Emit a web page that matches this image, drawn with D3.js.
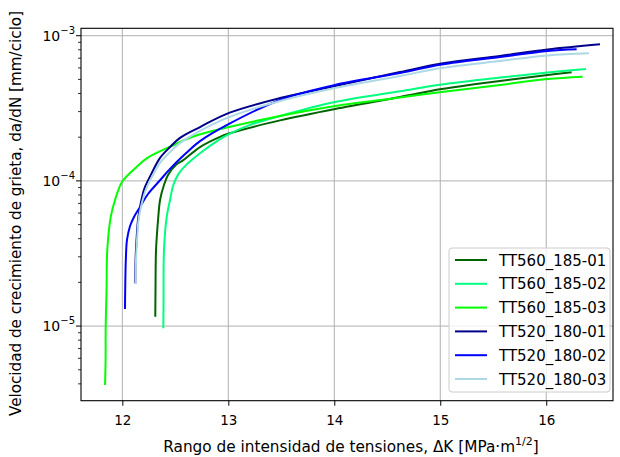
<!DOCTYPE html>
<html>
<head>
<meta charset="utf-8">
<script src="https://cdn.jsdelivr.net/npm/d3@7"></script>
<style>
  body { margin: 0; background: #fff; }
  svg { font-family: "DejaVu Sans", sans-serif; }
</style>
</head>
<body>
<svg width="620" height="457"></svg>
<script>
// Crack growth curves: da/dN vs ΔK (log y)

const seriesNames = [
  "TT560_185-01", "TT560_185-02", "TT560_185-03",
  "TT520_180-01", "TT520_180-02", "TT520_180-03"
];
const seriesColors = ["#006400", "#00ff7f", "#00ff00", "#00008b", "#0000ff", "#add8e6"];

// ΔK values [MPa·m^1/2] and da/dN values [mm/ciclo]
const tt560_01_K = [12.311, 12.313, 12.318, 12.337, 12.356, 12.393, 12.431, 12.507, 12.575, 12.733, 12.922, 13.007, 13.488, 14.007, 14.62, 15.013, 15.564, 16.013, 16.24];
const tt560_01_v = [1.16e-5, 1.77e-5, 3.34e-5, 5.38e-5, 7.39e-5, 9.37e-5, 1.10e-4, 1.29e-4, 1.39e-4, 1.71e-4, 2.01e-4, 2.12e-4, 2.61e-4, 3.13e-4, 3.78e-4, 4.29e-4, 4.88e-4, 5.36e-4, 5.60e-4];

const tt560_02_K = [12.387, 12.389, 12.393, 12.419, 12.45, 12.481, 12.525, 12.575, 12.733, 12.922, 13.007, 13.205, 13.488, 14.007, 14.62, 15.013, 15.564, 16.013, 16.375];
const tt560_02_v = [9.66e-6, 1.51e-5, 3.34e-5, 5.67e-5, 7.39e-5, 9.37e-5, 1.10e-4, 1.23e-4, 1.55e-4, 1.94e-4, 2.10e-4, 2.43e-4, 2.80e-4, 3.49e-4, 4.14e-4, 4.61e-4, 5.15e-4, 5.58e-4, 5.90e-4];

const tt560_03_K = [11.837, 11.842, 11.843, 11.851, 11.858, 11.891, 11.931, 12.0, 12.136, 12.23, 12.45, 12.67, 13.007, 13.488, 14.007, 14.62, 15.013, 15.564, 16.013, 16.343];
const tt560_03_v = [3.93e-6, 5.84e-6, 9.9e-6, 1.77e-5, 3.34e-5, 5.67e-5, 7.39e-5, 9.9e-5, 1.25e-4, 1.43e-4, 1.72e-4, 2.02e-4, 2.35e-4, 2.80e-4, 3.28e-4, 3.75e-4, 4.10e-4, 4.58e-4, 5.03e-4, 5.22e-4];

const tt520_01_K = [12.123, 12.125, 12.134, 12.148, 12.167, 12.191, 12.214, 12.277, 12.356, 12.45, 12.544, 12.733, 13.007, 13.488, 14.007, 14.62, 15.013, 15.564, 16.013, 16.507];
const tt520_01_v = [1.97e-5, 2.85e-5, 3.92e-5, 5.38e-5, 6.61e-5, 8.0e-5, 9.08e-5, 1.13e-4, 1.44e-4, 1.71e-4, 1.98e-4, 2.35e-4, 2.94e-4, 3.72e-4, 4.50e-4, 5.62e-4, 6.43e-4, 7.25e-4, 8.04e-4, 8.73e-4];

const tt520_02_K = [12.025, 12.027, 12.033, 12.044, 12.073, 12.11, 12.167, 12.242, 12.356, 12.45, 12.592, 12.733, 13.007, 13.488, 14.007, 14.62, 15.013, 15.564, 16.013, 16.287];
const tt520_02_v = [1.31e-5, 1.77e-5, 2.85e-5, 3.92e-5, 4.89e-5, 5.64e-5, 6.61e-5, 8.12e-5, 1.01e-4, 1.21e-4, 1.53e-4, 1.88e-4, 2.47e-4, 3.61e-4, 4.58e-4, 5.53e-4, 6.33e-4, 7.13e-4, 7.85e-4, 8.06e-4];

const tt520_03_K = [12.127, 12.129, 12.139, 12.153, 12.176, 12.205, 12.233, 12.29, 12.356, 12.45, 12.544, 12.733, 13.007, 13.488, 14.007, 14.62, 15.013, 15.564, 16.013, 16.403];
const tt520_03_v = [1.95e-5, 2.85e-5, 3.92e-5, 5.38e-5, 6.61e-5, 8.0e-5, 9.08e-5, 1.10e-4, 1.33e-4, 1.58e-4, 1.82e-4, 2.21e-4, 2.75e-4, 3.55e-4, 4.36e-4, 5.28e-4, 5.99e-4, 6.70e-4, 7.31e-4, 7.56e-4];

const seriesK = [tt560_01_K, tt560_02_K, tt560_03_K, tt520_01_K, tt520_02_K, tt520_03_K];
const seriesV = [tt560_01_v, tt560_02_v, tt560_03_v, tt520_01_v, tt520_02_v, tt520_03_v];

const xTicks = [12, 13, 14, 15, 16];
const yMajor = [-5, -4, -3];

const svg = d3.select("svg");

// Plot frame
const frame = { left: 81, right: 613, top: 28.3, bottom: 400.7 };

const x = d3.scaleLinear().domain([11.61, 16.63]).range([frame.left, frame.right]);
const y = d3.scaleLog()
  .domain([Math.pow(10, -5.514), Math.pow(10, -2.949)])
  .range([frame.bottom, frame.top]);

// ---- Grid ----
const grid = svg.append("g");
grid.selectAll("line.gx")
  .data(xTicks)
  .join("line")
  .attr("x1", (d) => x(d)).attr("x2", (d) => x(d))
  .attr("y1", frame.top).attr("y2", frame.bottom)
  .attr("stroke", "#b0b0b0").attr("stroke-width", 1);
grid.selectAll("line.gy")
  .data(yMajor)
  .join("line")
  .attr("x1", frame.left).attr("x2", frame.right)
  .attr("y1", (d) => y(Math.pow(10, d))).attr("y2", (d) => y(Math.pow(10, d)))
  .attr("stroke", "#b0b0b0").attr("stroke-width", 1);

// ---- Curves ----
const line = d3.line()
  .x((d) => x(d[0]))
  .y((d) => y(d[1]))
  .curve(d3.curveCatmullRom.alpha(0.5));

const plot = svg.append("g");
seriesNames.forEach((name, i) => {
  const pts = seriesK[i].map((k, j) => [k, seriesV[i][j]]);
  plot.append("path")
    .datum(pts)
    .attr("d", line)
    .attr("fill", "none")
    .attr("stroke", seriesColors[i])
    .attr("stroke-width", 2);
});

// ---- Axes ----
const xAxis = d3.axisBottom(x).tickValues(xTicks).tickSize(5).tickPadding(10).tickFormat(d3.format("d"));
const gx = svg.append("g").attr("transform", `translate(0,${frame.bottom})`).call(xAxis);
gx.select(".domain").remove();
gx.selectAll("text").attr("font-size", 13.5).attr("fill", "#000").attr("font-family", "DejaVu Sans");
gx.selectAll("line").attr("stroke", "#000");

// minor y ticks
const minor = [];
[-6, -5, -4].forEach((e) => {
  for (let m = 2; m <= 9; m++) {
    const v = m * Math.pow(10, e);
    if (v > y.domain()[0] && v < y.domain()[1]) minor.push(v);
  }
});
const gy = svg.append("g").attr("transform", `translate(${frame.left},0)`);
gy.selectAll("line.minor")
  .data(minor)
  .join("line")
  .attr("x1", -3).attr("x2", 0)
  .attr("y1", (d) => y(d)).attr("y2", (d) => y(d))
  .attr("stroke", "#000").attr("stroke-width", 0.8);
gy.selectAll("line.major")
  .data(yMajor)
  .join("line")
  .attr("x1", -5).attr("x2", 0)
  .attr("y1", (d) => y(Math.pow(10, d))).attr("y2", (d) => y(Math.pow(10, d)))
  .attr("stroke", "#000").attr("stroke-width", 1);
const ylab = gy.selectAll("text.tick")
  .data(yMajor)
  .join("text")
  .attr("x", -6)
  .attr("y", (d) => y(Math.pow(10, d)) + 5)
  .attr("text-anchor", "end")
  .attr("font-size", 14)
  .attr("fill", "#000");
ylab.append("tspan").text("10");
ylab.append("tspan")
  .attr("dy", -7)
  .attr("font-size", 10)
  .text((d) => "\u2212" + Math.abs(d));

// frame
svg.append("rect")
  .attr("x", frame.left).attr("y", frame.top)
  .attr("width", frame.right - frame.left).attr("height", frame.bottom - frame.top)
  .attr("fill", "none").attr("stroke", "#000").attr("stroke-width", 1.1);

// ---- Axis titles ----
const xt = svg.append("text")
  .attr("x", (frame.left + frame.right) / 2 + 4)
  .attr("y", 452)
  .attr("text-anchor", "middle")
  .attr("font-size", 15.3)
  .attr("fill", "#000");
xt.append("tspan").text("Rango de intensidad de tensiones, \u0394K [MPa\u00b7m");
xt.append("tspan").attr("dy", -7).attr("font-size", 11).text("1/2");
xt.append("tspan").attr("dy", 7).text("]");

svg.append("text")
  .attr("transform", `translate(21,${(frame.top + frame.bottom) / 2 - 1}) rotate(-90)`)
  .attr("text-anchor", "middle")
  .attr("font-size", 15.2)
  .attr("fill", "#000")
  .text("Velocidad de crecimiento de grieta, da/dN [mm/ciclo]");

// ---- Legend ----
const legend = svg.append("g").attr("transform", "translate(449,248)");
legend.append("rect")
  .attr("width", 161).attr("height", 144)
  .attr("rx", 3)
  .attr("fill", "#fff").attr("fill-opacity", 0.8)
  .attr("stroke", "#cccccc");
const row = legend.selectAll("g.row")
  .data(seriesNames)
  .join("g")
  .attr("transform", (d, i) => `translate(0,${12 + i * 23.8})`);
row.append("line")
  .attr("x1", 6).attr("x2", 38)
  .attr("stroke", (d, i) => seriesColors[i])
  .attr("stroke-width", 2);
row.append("text")
  .attr("x", 50).attr("y", 5.5)
  .attr("font-size", 15)
  .attr("fill", "#000")
  .text((d) => d);
</script>
</body>
</html>
